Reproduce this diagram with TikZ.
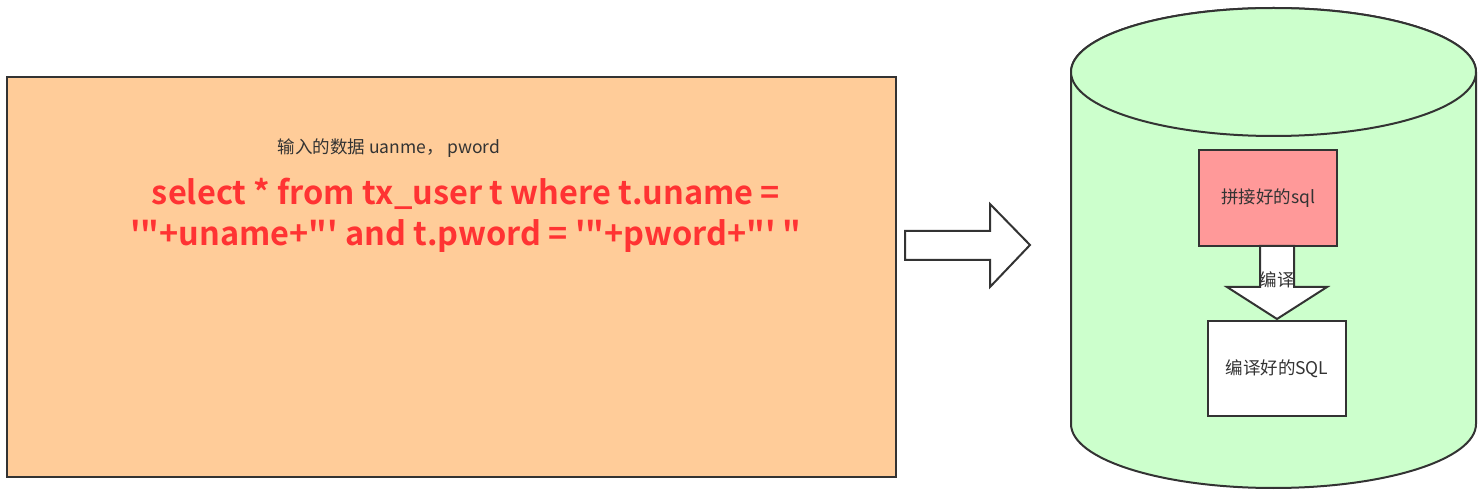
\documentclass[tikz,border=0pt]{standalone}
\usepackage{fontspec}
\setmainfont{Noto Sans CJK SC}
\newfontfamily\cjkbold{Noto Sans CJK SC Bold}
\definecolor{strokec}{HTML}{333333}
\definecolor{orangefill}{HTML}{FFCC99}
\definecolor{greenfill}{HTML}{CCFFCC}
\definecolor{pinkfill}{HTML}{FF9999}
\definecolor{redtext}{HTML}{FF3333}
\begin{document}
\begin{tikzpicture}[x=1pt,y=-1pt,
  shapeline/.style={draw=strokec,line width=2pt,line join=miter},
  smalltext/.style={text=strokec,font=\fontsize{17.5}{20}\selectfont,inner sep=0pt},
  bigtext/.style={text=redtext,font=\cjkbold\fontsize{32.5}{41}\selectfont,align=center,inner sep=0pt}]
\useasboundingbox (0,0) rectangle (1484,494);
% left box
\node[shapeline,fill=orangefill,minimum width=889pt,minimum height=400pt,anchor=north west,inner sep=0pt] (panel) at (6,76) {};
\node[smalltext] (inlabel) at (389,148) {输入的数据 uanme， pword};
\node[bigtext] (sqltext) at (466,215) {select * from tx\_user t where t.uname =\\'"+uname+"' and t.pword = '"+pword+"' "};
% big right arrow
\coordinate (a1) at (905,231);
\coordinate (a2) at (990,231);
\coordinate (a3) at (990,204);
\coordinate (a4) at (1030,245);
\coordinate (a5) at (990,287);
\coordinate (a6) at (990,260);
\coordinate (a7) at (905,260);
\draw[shapeline,fill=white] (a1) -- (a2) -- (a3) -- (a4) -- (a5) -- (a6) -- (a7) -- cycle;
% cylinder
\coordinate (cylc) at (1273.5,72);
\coordinate (cylbl) at (1071,424);
\coordinate (cylbr) at (1476,424);
\coordinate (cyltl) at (1071,72);
\coordinate (cyltr) at (1476,72);
\draw[shapeline,fill=greenfill] (cyltl) -- (cylbl) arc[start angle=180,end angle=360,x radius=202.5pt,y radius=64pt] -- (cyltr) arc[start angle=0,end angle=180,x radius=202.5pt,y radius=64pt] -- cycle;
\draw[shapeline,fill=greenfill] (cylc) ellipse[x radius=202.5pt,y radius=64pt];
% inner boxes
\node[shapeline,fill=pinkfill,minimum width=138pt,minimum height=96pt,inner sep=0pt] (joined) at (1268,198) {};
\node[smalltext] (joinedlabel) at (1268,198) {拼接好的sql};
\node[shapeline,fill=white,minimum width=138pt,minimum height=95pt,inner sep=0pt] (compiled) at (1277,368.5) {};
\node[smalltext] (compiledlabel) at (1277,369) {编译好的SQL};
% down arrow
\coordinate (d1) at (1260,246);
\coordinate (d2) at (1294,246);
\coordinate (d3) at (1294,287);
\coordinate (d4) at (1327,287);
\coordinate (d5) at (1277,319);
\coordinate (d6) at (1227,287);
\coordinate (d7) at (1260,287);
\draw[shapeline,fill=white] (d1) -- (d2) -- (d3) -- (d4) -- (d5) -- (d6) -- (d7) -- cycle;
\node[smalltext] (compilelabel) at (1277,280) {编译};
\end{tikzpicture}
\end{document}
